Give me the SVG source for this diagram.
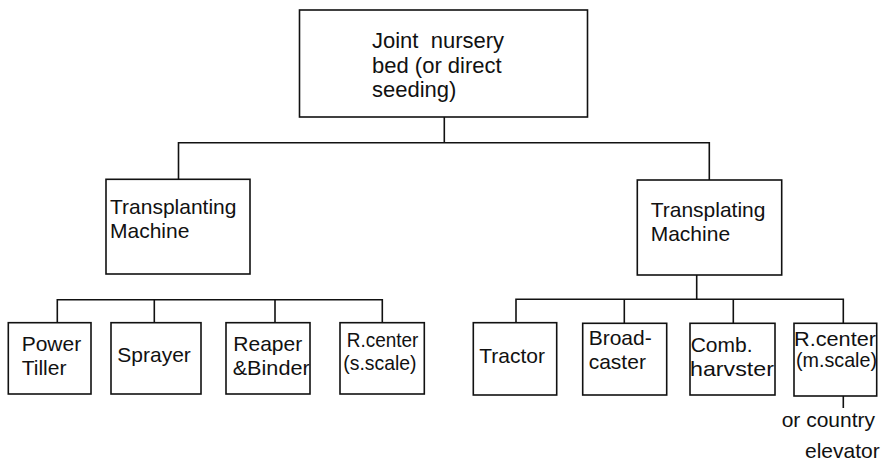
<svg xmlns="http://www.w3.org/2000/svg" width="882" height="464" viewBox="0 0 882 464">
  <style>
    .box { fill: #fff; stroke: #111; stroke-width: 1.6; }
    .wire { fill: none; stroke: #111; stroke-width: 1.6; }
    text { font-family: "Liberation Sans", Arial, sans-serif; font-size: 21px; fill: #111; }
    .big { font-size: 22px; }
  </style>
  <rect width="882" height="464" fill="#fff"/>

  <!-- connectors -->
  <g id="connectors">
    <!-- root to level 2 -->
    <path class="wire" d="M444.3 117 V142.7 M178.5 179.3 V142.7 H709.3 V180"/>
    <!-- left branch bus -->
    <path class="wire" d="M57.3 322.7 V299.7 H382.3 V322.7 M154.3 299.7 V322.7 M275 299.7 V322.7"/>
    <!-- right branch bus -->
    <path class="wire" d="M696.7 275 V299.3 M516 323 V299.3 H843.3 V323 M624.3 299.3 V323 M733.3 299.3 V323"/>
    <!-- R.center (m.scale) tail -->
    <path class="wire" d="M843.3 396 V408"/>
  </g>

  <g id="root">
    <rect class="box" x="299.5" y="10" width="288" height="107"/>
    <text class="big" x="372" y="48" xml:space="preserve">Joint  nursery</text>
    <text class="big" x="372" y="73">bed (or direct</text>
    <text class="big" x="372" y="97">seeding)</text>
  </g>

  <g id="transplanting-left">
    <rect class="box" x="106" y="179.3" width="144" height="94.7"/>
    <text x="110" y="213.5">Transplanting</text>
    <text x="110" y="237.5">Machine</text>
  </g>

  <g id="transplating-right">
    <rect class="box" x="637.3" y="180" width="144.4" height="95"/>
    <text x="650.7" y="217.3">Transplating</text>
    <text x="650.7" y="241">Machine</text>
  </g>

  <g id="power-tiller">
    <rect class="box" x="8.3" y="322.7" width="82.7" height="71.3"/>
    <text x="21.7" y="350.7">Power</text>
    <text x="21.7" y="375">Tiller</text>
  </g>

  <g id="sprayer">
    <rect class="box" x="111" y="322.7" width="90" height="71.3"/>
    <text x="117.3" y="361.7">Sprayer</text>
  </g>

  <g id="reaper-binder">
    <rect class="box" x="226" y="322.7" width="84" height="71.3"/>
    <text x="233.3" y="350.7">Reaper</text>
    <text x="232.7" y="375" textLength="77" lengthAdjust="spacingAndGlyphs">&amp;Binder</text>
  </g>

  <g id="rcenter-s">
    <rect class="box" x="340" y="322.7" width="84.3" height="71.3"/>
    <text x="346.7" y="347.3" textLength="71.7" lengthAdjust="spacingAndGlyphs">R.center</text>
    <text x="343.3" y="370" textLength="73.3" lengthAdjust="spacingAndGlyphs">(s.scale)</text>
  </g>

  <g id="tractor">
    <rect class="box" x="473.3" y="322.7" width="83.4" height="72.3"/>
    <text x="479.3" y="362.7">Tractor</text>
  </g>

  <g id="broadcaster">
    <rect class="box" x="582.7" y="323.3" width="84" height="71.7"/>
    <text x="588.7" y="345">Broad-</text>
    <text x="588.7" y="369.3">caster</text>
  </g>

  <g id="comb-harvster">
    <rect class="box" x="690" y="323.3" width="85" height="71.7"/>
    <text x="690.7" y="351.7">Comb.</text>
    <text x="690" y="376" textLength="84" lengthAdjust="spacingAndGlyphs">harvster</text>
  </g>

  <g id="rcenter-m">
    <rect class="box" x="794" y="323.3" width="82.7" height="72.7"/>
    <text x="794" y="346" textLength="82" lengthAdjust="spacingAndGlyphs">R.center</text>
    <text x="796" y="366.7" textLength="81" lengthAdjust="spacingAndGlyphs">(m.scale)</text>
  </g>

  <g id="country-elevator">
    <text x="781.7" y="426.7">or country</text>
    <text x="805" y="457.5">elevator</text>
  </g>
</svg>
